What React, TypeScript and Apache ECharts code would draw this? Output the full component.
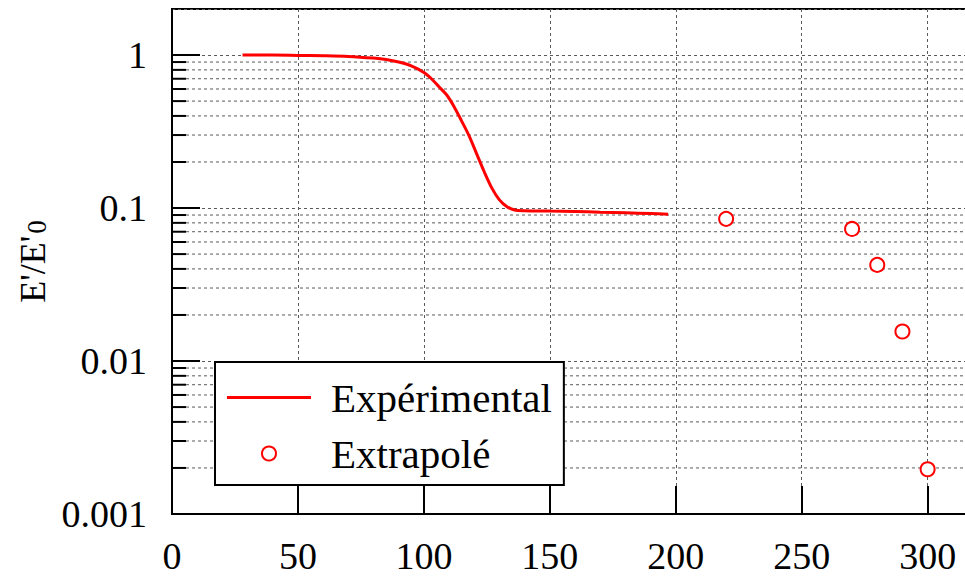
import React, { useEffect, useRef } from "react";
import * as echarts from "echarts";

// Experimental curve E'/E'0 vs x
const expX = [28, 40, 50, 60, 70, 80, 85, 90, 95, 100, 103, 106, 109, 112, 115, 118, 121, 124, 127, 130, 133, 136, 140, 150, 160, 170, 180, 190, 197];
const expY = [1.0, 1.0, 0.995, 0.99, 0.98, 0.955, 0.935, 0.9, 0.85, 0.77, 0.7, 0.62, 0.55, 0.46, 0.37, 0.295, 0.225, 0.172, 0.135, 0.113, 0.102, 0.097, 0.096, 0.0955, 0.095, 0.094, 0.093, 0.092, 0.091];

// Extrapolated points
const extX = [220, 270, 280, 290, 300];
const extY = [0.085, 0.073, 0.0425, 0.0156, 0.00196];

// Minor log ticks (2..9 per decade)
const minorTicks = [
  0.002, 0.003, 0.004, 0.005, 0.006, 0.007, 0.008, 0.009,
  0.02, 0.03, 0.04, 0.05, 0.06, 0.07, 0.08, 0.09,
  0.2, 0.3, 0.4, 0.5, 0.6, 0.7, 0.8, 0.9,
];

const yTickLabels: Record<string, string> = { "0.001": "0.001", "0.01": "0.01", "0.1": "0.1", "1": "1" };

const FONT = "'Liberation Serif', 'DejaVu Serif', serif";
const GRID_COLOR = "#5a5a5a";
const RED = "#ff0000";

export default function App() {
  const ref = useRef<HTMLDivElement>(null);
  useEffect(() => {
    if (!ref.current) return;
    const chart = echarts.init(ref.current, null, { renderer: "svg" });
    chart.setOption({
      animation: false,
      backgroundColor: "#fff",
      grid: {
        left: 172,
        top: 9,
        width: 806,
        height: 505,
        show: true,
        borderColor: "#000",
        borderWidth: 2,
        backgroundColor: "transparent",
      },
      legend: {
        orient: "vertical",
        left: 215,
        top: 362,
        backgroundColor: "#fff",
        borderColor: "#000",
        borderWidth: 2,
        borderRadius: 0,
        padding: [15, 12, 11, 12],
        itemWidth: 84,
        itemHeight: 14,
        itemGap: 15,
        textStyle: { fontFamily: FONT, fontSize: 41, lineHeight: 40, color: "#000", padding: [0, 0, 0, 15] },
        data: [
          { name: "Expérimental", icon: "path://M0,0L84,0L84,3L0,3Z" },
          { name: "Extrapolé" },
        ],
      },
      xAxis: {
        type: "value",
        min: 0,
        max: 320,
        interval: 50,
        axisLine: { show: true, lineStyle: { color: "#000", width: 2 } },
        axisTick: { show: true, inside: true, length: 28, lineStyle: { color: "#000", width: 2 } },
        axisLabel: { fontFamily: FONT, fontSize: 38, lineHeight: 38, color: "#000", margin: 23, showMaxLabel: false },
        splitLine: { show: true, lineStyle: { color: GRID_COLOR, width: 1, type: [3, 3] } },
      },
      yAxis: {
        type: "log",
        logBase: 10,
        min: 0.001,
        max: 2,
        name: "E'/E'{s|0}",
        nameLocation: "middle",
        nameGap: 118,
        nameTextStyle: {
          fontFamily: FONT,
          fontSize: 36,
          color: "#000",
          rich: { s: { fontFamily: FONT, fontSize: 27, color: "#000", verticalAlign: "bottom", padding: [8, 0, 0, 2] } },
        },
        axisLine: { show: true, lineStyle: { color: "#000", width: 2 } },
        axisTick: { show: true, inside: true, length: 28, lineStyle: { color: "#000", width: 2 } },
        axisLabel: {
          fontFamily: FONT,
          fontSize: 38,
          color: "#000",
          margin: 25,
          showMaxLabel: false,
          formatter: (v: number) => {
            const key = String(Number(v.toPrecision(3)));
            return yTickLabels[key] ?? "";
          },
        },
        splitLine: { show: true, lineStyle: { color: GRID_COLOR, width: 1, type: [3, 3] } },
      },
      series: [
        {
          type: "custom",
          name: "minor",
          z: 1,
          silent: true,
          data: minorTicks.map((v) => [0, v]),
          renderItem: (params: any, api: any) => {
            const v = api.value(1);
            const p = api.coord([0, v]);
            const cs = params.coordSys;
            return {
              type: "group",
              children: [
                {
                  type: "line",
                  shape: { x1: cs.x + 14, y1: p[1], x2: cs.x + cs.width, y2: p[1] },
                  style: { stroke: GRID_COLOR, lineWidth: 1, lineDash: [3, 3] },
                },
                {
                  type: "line",
                  shape: { x1: cs.x, y1: p[1], x2: cs.x + 14, y2: p[1] },
                  style: { stroke: "#000", lineWidth: 2 },
                },
              ],
            };
          },
        },
        {
          type: "line",
          name: "Expérimental",
          z: 3,
          symbol: "none",
          smooth: 0.3,
          lineStyle: { color: RED, width: 3 },
          itemStyle: { color: RED },
          data: expX.map((x, i) => [x, expY[i]]),
        },
        {
          type: "scatter",
          name: "Extrapolé",
          z: 3,
          symbol: "emptyCircle",
          symbolSize: 14,
          itemStyle: { color: RED, borderColor: RED, borderWidth: 2.2, opacity: 1 },
          data: extX.map((x, i) => [x, extY[i]]),
        },
      ],
    });
    return () => chart.dispose();
  }, []);
  return (
    <div
      ref={ref}
      style={{ position: "fixed", left: 0, top: 0, width: 1000, height: 576, background: "#fff" }}
    />
  );
}
